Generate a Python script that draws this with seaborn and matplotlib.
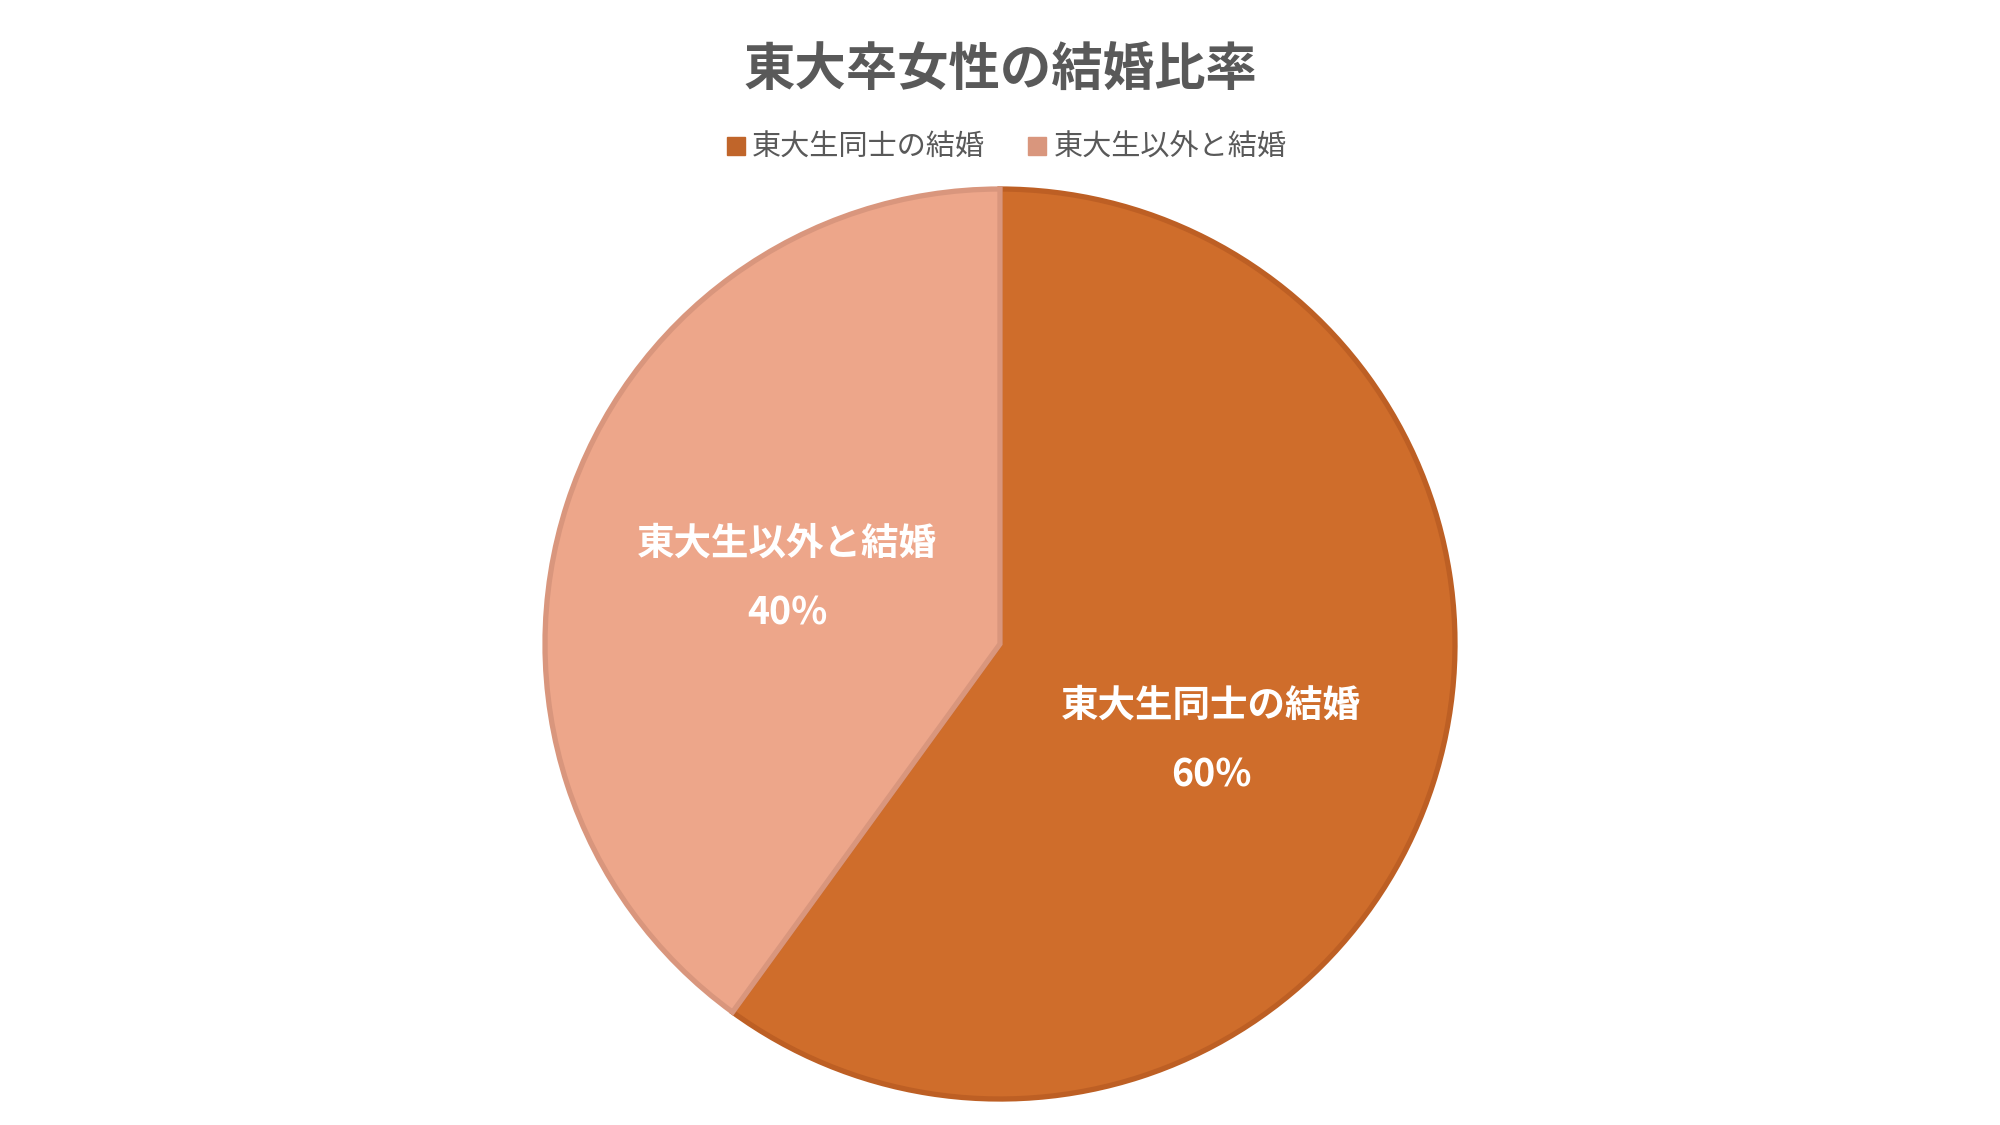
import matplotlib
matplotlib.use("Agg")
import numpy as np
import matplotlib.pyplot as plt
from matplotlib.lines import Line2D
import seaborn as sns

# data
categories = ["東大生同士の結婚", "東大生以外と結婚"]
shares = [60, 40]
fill_colors = ["#CF6D2B", "#EDA68A"]
edge_colors = ["#BD5F24", "#D9967D"]
title = "東大卒女性の結婚比率"

sns.set_theme(style="white")
plt.rcParams["font.family"] = ["Noto Sans CJK JP", "DejaVu Sans"]

fig = plt.figure(figsize=(20, 11.25), dpi=100)
fig.patch.set_facecolor("white")

# square axes holding the pie, centre about (1001, 644) px, radius about 455 px
ax = fig.add_axes([0.2725, 0.0231, 0.455, 0.8089])
ax.set_aspect("equal")

wedges, texts = ax.pie(
    shares,
    colors=fill_colors,
    startangle=90,
    counterclock=False,
    radius=1.0,
    wedgeprops=dict(linewidth=3.8),
)
for w, ec in zip(wedges, edge_colors):
    w.set_edgecolor(ec)
    w.set_clip_on(False)

# data labels, "best fit" style placement inside each slice
label_r = [0.51, 0.49]
angle_shift = [-6.5, 0.8]
total = sum(shares)
for w, name, val, r, da in zip(wedges, categories, shares, label_r, angle_shift):
    mid = np.deg2rad((w.theta1 + w.theta2) / 2 + da)
    ax.text(r * np.cos(mid), r * np.sin(mid), f"{name}\n{val / total * 100:.0f}%",
            ha="center", va="center", color="white", fontsize=27,
            fontweight="bold", linespacing=2.0)

ax.set_xlim(-1, 1)
ax.set_ylim(-1, 1)
ax.axis("off")

fig.suptitle(title, x=0.5, y=1 - 70 / 1125, va="center",
             fontsize=37, fontweight="bold", color="#595959")

handles = [Line2D([0], [0], marker="s", linestyle="none", markersize=13,
                  markerfacecolor=c, markeredgecolor=c) for c in ["#C0652A", "#D9967D"]]
fig.legend(handles, categories, loc="center", bbox_to_anchor=(0.503, 1 - 148 / 1125),
           ncol=2, frameon=False, fontsize=21, labelcolor="#595959",
           handlelength=0.7, handletextpad=0.2, columnspacing=1.45)

fig.savefig("out.png", dpi=100, facecolor="white")
